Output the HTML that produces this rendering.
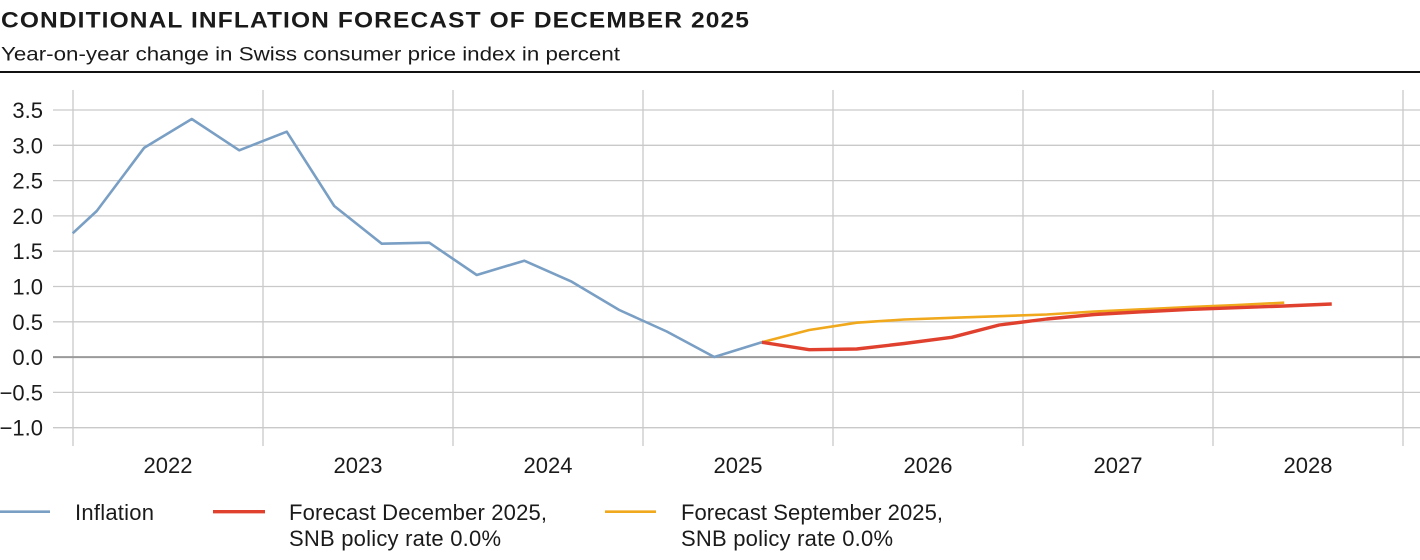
<!DOCTYPE html>
<html><head><meta charset="utf-8"><style>
html,body{margin:0;padding:0;background:#fff;}
svg{display:block;}
text{font-family:"Liberation Sans",Arial,sans-serif;fill:#1a1a1a;}
</style></head><body>
<svg width="1420" height="560" viewBox="0 0 1420 560" xmlns="http://www.w3.org/2000/svg">
<text x="1" y="27.5" font-size="22" font-weight="bold" letter-spacing="1" textLength="749" lengthAdjust="spacingAndGlyphs">CONDITIONAL INFLATION FORECAST OF DECEMBER 2025</text>
<text x="1" y="60.5" font-size="19.5" textLength="619" lengthAdjust="spacingAndGlyphs">Year-on-year change in Swiss consumer price index in percent</text>
<rect x="0" y="71" width="1420" height="2" fill="#111"/>
<g stroke="#c9c9c9" stroke-width="1.3">
<line x1="53" y1="110" x2="1420" y2="110"/>
<line x1="53" y1="145.3" x2="1420" y2="145.3"/>
<line x1="53" y1="180.6" x2="1420" y2="180.6"/>
<line x1="53" y1="215.9" x2="1420" y2="215.9"/>
<line x1="53" y1="251.2" x2="1420" y2="251.2"/>
<line x1="53" y1="286.5" x2="1420" y2="286.5"/>
<line x1="53" y1="321.8" x2="1420" y2="321.8"/>
<line x1="53" y1="392.4" x2="1420" y2="392.4"/>
<line x1="53" y1="427.7" x2="1420" y2="427.7"/>
<line x1="73" y1="90" x2="73" y2="446"/>
<line x1="263" y1="90" x2="263" y2="446"/>
<line x1="453" y1="90" x2="453" y2="446"/>
<line x1="643" y1="90" x2="643" y2="446"/>
<line x1="833" y1="90" x2="833" y2="446"/>
<line x1="1023" y1="90" x2="1023" y2="446"/>
<line x1="1213" y1="90" x2="1213" y2="446"/>
<line x1="1403" y1="90" x2="1403" y2="446"/>
</g>
<line x1="53" y1="357.1" x2="1420" y2="357.1" stroke="#9a9a9a" stroke-width="2"/>
<g font-size="22" text-anchor="end">
<text x="43" y="118">3.5</text>
<text x="43" y="153.3">3.0</text>
<text x="43" y="188.6">2.5</text>
<text x="43" y="223.9">2.0</text>
<text x="43" y="259.2">1.5</text>
<text x="43" y="294.5">1.0</text>
<text x="43" y="329.8">0.5</text>
<text x="43" y="365.1">0.0</text>
<text x="43" y="400.4">−0.5</text>
<text x="43" y="435.7">−1.0</text>
</g>
<g font-size="22" text-anchor="middle">
<text x="168" y="473">2022</text>
<text x="358" y="473">2023</text>
<text x="548" y="473">2024</text>
<text x="738" y="473">2025</text>
<text x="928" y="473">2026</text>
<text x="1118" y="473">2027</text>
<text x="1308" y="473">2028</text>
</g>
<polyline fill="none" stroke="#f0a81c" stroke-width="2.6" stroke-linejoin="round" points="761.75,342.3 809.25,330 856.75,322.7 904.25,319.5 951.75,317.8 999.25,316.2 1046.75,314.5 1094.25,311.5 1141.75,309.3 1189.25,307 1236.75,305 1284.25,302.7"/>
<polyline fill="none" stroke="#e0412f" stroke-width="3.4" stroke-linejoin="round" points="761.75,342.3 809.25,349.7 856.75,349 904.25,343.5 951.75,337.3 999.25,325 1046.75,319 1094.25,314.5 1141.75,311.8 1189.25,309.4 1236.75,307.7 1284.25,306 1331.75,304"/>
<polyline fill="none" stroke="#7a9fc4" stroke-width="2.6" stroke-linejoin="round" points="72.7,233.3 96.75,211 144.25,147.7 191.75,119 239.25,150.3 286.75,131.7 334.25,206 381.75,243.7 429.25,242.7 476.75,275 524.25,260.7 571.75,281.7 619.25,310 666.75,331.5 714.25,357 761.75,342.3"/>
<line x1="0" y1="511.7" x2="50" y2="511.7" stroke="#7a9fc4" stroke-width="2.6"/>
<line x1="213" y1="511.7" x2="265" y2="511.7" stroke="#e0412f" stroke-width="3.4"/>
<line x1="605" y1="511.7" x2="656" y2="511.7" stroke="#f0a81c" stroke-width="2.6"/>
<g font-size="22">
<text x="75" y="520" textLength="79" lengthAdjust="spacing">Inflation</text>
<text x="289" y="520" textLength="258" lengthAdjust="spacing">Forecast December 2025,</text>
<text x="289" y="546" textLength="212" lengthAdjust="spacing">SNB policy rate 0.0%</text>
<text x="681" y="520" textLength="262" lengthAdjust="spacing">Forecast September 2025,</text>
<text x="681" y="546" textLength="212" lengthAdjust="spacing">SNB policy rate 0.0%</text>
</g>
</svg>
</body></html>
